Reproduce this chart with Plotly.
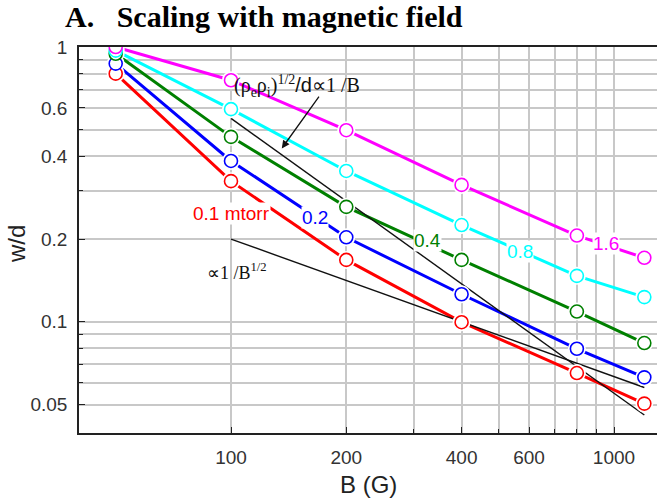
import numpy as np
import plotly.graph_objects as go

# ---------------- data ----------------
B = [50, 100, 200, 400, 800, 1200]
series_names = ["0.1 mtorr", "0.2", "0.4", "0.8", "1.6"]
wd_01 = [0.80, 0.325, 0.168, 0.0997, 0.0651, 0.0504]
wd_02 = [0.87, 0.385, 0.203, 0.126, 0.0798, 0.0628]
wd_04 = [0.945, 0.471, 0.262, 0.168, 0.109, 0.0837]
wd_08 = [0.97, 0.594, 0.354, 0.225, 0.147, 0.123]
wd_16 = [1.0, 0.757, 0.498, 0.315, 0.206, 0.171]
series_vals = [wd_01, wd_02, wd_04, wd_08, wd_16]
colors = ["#ff0000", "#0000ff", "#008000", "#00ffff", "#ff00ff"]

ref_B = [100, 1200]
ref_sqrt = [0.2, 0.0577]    # ∝ 1/B^(1/2)
ref_inv = [0.55, 0.0458]    # ∝ 1/B

x_major = [100, 200, 400, 600, 1000]
x_minor = [300, 500, 700, 800, 900]
y_major = [0.05, 0.1, 0.2, 0.4, 0.6, 1]
y_minor = [0.06, 0.07, 0.08, 0.09, 0.3, 0.5, 0.7, 0.8, 0.9]

# label anchor positions (B, w/d)
label_B = [100.6, 165.7, 324.9, 568, 953]
label_wd = [0.2485, 0.2406, 0.197, 0.1796, 0.192]

L = np.log10
SANS = "Liberation Sans, Arial, sans-serif"
SERIF = "Liberation Serif, Times New Roman, serif"

fig = go.Figure()

# colored lines
for vals, c in zip(series_vals, colors):
    fig.add_trace(go.Scatter(x=B, y=vals, mode="lines",
                             line=dict(color=c, width=3), showlegend=False,
                             hoverinfo="skip"))
# reference lines
for vals in [ref_sqrt, ref_inv]:
    fig.add_trace(go.Scatter(x=ref_B, y=vals, mode="lines",
                             line=dict(color="#111111", width=1.4),
                             showlegend=False, hoverinfo="skip"))
# white halos
for vals in series_vals:
    fig.add_trace(go.Scatter(x=B, y=vals, mode="markers",
                             marker=dict(symbol="circle", size=18, color="white",
                                         line=dict(width=0)),
                             showlegend=False, hoverinfo="skip"))
# open circles
for vals, c, n in zip(series_vals, colors, series_names):
    fig.add_trace(go.Scatter(x=B, y=vals, mode="markers", name=n,
                             marker=dict(symbol="circle", size=13, color="white",
                                         line=dict(width=1.6, color=c)),
                             showlegend=False))

annotations = []
for n, c, bx, wy in zip(series_names, colors, label_B, label_wd):
    annotations.append(dict(x=L(bx), y=L(wy), xref="x", yref="y", text=n,
                            showarrow=False, bgcolor="white", borderpad=0,
                            font=dict(family=SANS, size=19, color=c)))

# formula labels
annotations.append(dict(
    x=L(100.5), y=L(0.72), xref="x", yref="y", xanchor="left", yanchor="middle",
    text="(ρ<sub>e</sub>ρ<sub>i</sub>)<sup>1/2</sup><span style=\"font-family:Liberation Sans\">/d</span>∝1 /B",
    showarrow=False, font=dict(family=SERIF, size=20, color="#111111")))
annotations.append(dict(
    x=L(85.5), y=L(0.152), xref="x", yref="y", xanchor="left", yanchor="middle",
    text="∝1 /B<sup>1/2</sup>", showarrow=False,
    font=dict(family=SERIF, size=18, color="#111111")))
# arrow
annotations.append(dict(
    x=L(135.7), y=L(0.4276), xref="x", yref="y",
    ax=L(170.8), ay=L(0.668), axref="x", ayref="y",
    text="", showarrow=True, arrowhead=2, arrowsize=1.2, arrowwidth=1.3,
    arrowcolor="#111111"))

# title and axis titles
annotations.append(dict(
    x=-0.0277, y=1.078, xref="paper", yref="paper", xanchor="left", yanchor="middle",
    text="<b>A.\u00a0\u00a0\u00a0Scaling with magnetic field</b>", showarrow=False,
    font=dict(family=SERIF, size=30, color="black")))
annotations.append(dict(
    x=0.5, y=-0.1347, xref="paper", yref="paper", xanchor="center", yanchor="middle",
    text="B (G)", showarrow=False, font=dict(family=SANS, size=24, color="#222222")))
annotations.append(dict(
    x=-0.109, y=0.4896, xref="paper", yref="paper", xanchor="center", yanchor="middle",
    text="w/d", textangle=-90, showarrow=False,
    font=dict(family=SANS, size=24, color="#222222")))

grid_c = "#c8c8c8"
fig.update_layout(
    width=657, height=498,
    margin=dict(l=79, r=0, t=47, b=65),
    paper_bgcolor="white", plot_bgcolor="white",
    annotations=annotations,
    xaxis=dict(type="log", range=[L(40.1), L(1295)],
               tickmode="array", tickvals=x_major, ticktext=[str(v) for v in x_major],
               ticks="inside", ticklen=6, tickwidth=1.2, tickcolor="#222222",
               showgrid=True, gridcolor=grid_c, gridwidth=1.5,
               minor=dict(tickmode="array", tickvals=x_minor, ticks="inside",
                          ticklen=4, tickcolor="#222222", showgrid=True,
                          gridcolor=grid_c, gridwidth=1.5),
               showline=True, linecolor="#222222", linewidth=1.5, mirror=True,
               tickfont=dict(family=SANS, size=19, color="#333333"),
               ticklabelstandoff=6, zeroline=False),
    yaxis=dict(type="log", range=[L(0.0394), 0],
               tickmode="array", tickvals=y_major, ticktext=[str(v) for v in y_major],
               ticks="inside", ticklen=6, tickwidth=1.2, tickcolor="#222222",
               showgrid=True, gridcolor=grid_c, gridwidth=1.5,
               minor=dict(tickmode="array", tickvals=y_minor, ticks="inside",
                          ticklen=4, tickcolor="#222222", showgrid=True,
                          gridcolor=grid_c, gridwidth=1.5),
               showline=True, linecolor="#222222", linewidth=1.5, mirror=False,
               tickfont=dict(family=SANS, size=19, color="#333333"),
               ticklabelstandoff=6, zeroline=False),
)

fig.write_html("out.html")
